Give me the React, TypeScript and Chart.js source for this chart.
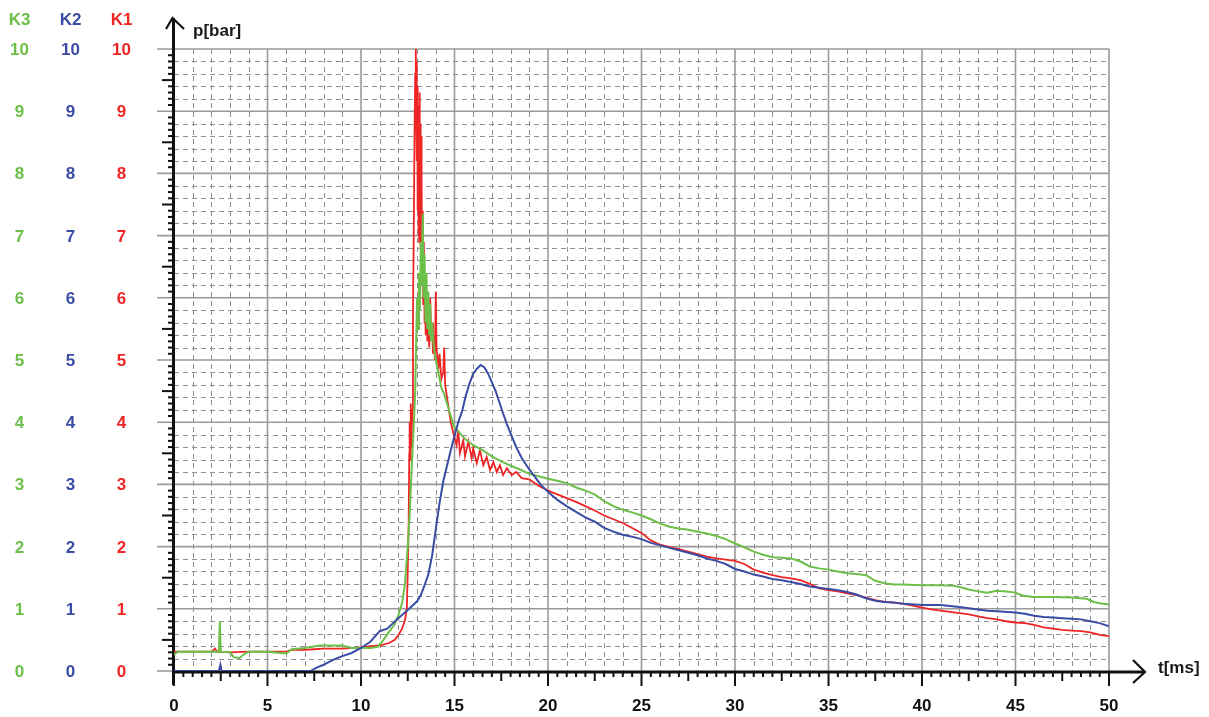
import React, { useEffect, useRef } from "react";
import { Chart, registerables } from "chart.js";

Chart.register(...registerables);

// ---------- data (time in ms, pressure in bar) ----------
const K1_T = [
  0, 1, 2, 2.2, 2.3, 3, 4, 5, 6, 6.3, 7, 7.5, 8, 9, 10, 10.5, 11, 11.5, 11.8, 12, 12.2, 12.35, 12.45,
  12.5, 12.55, 12.58, 12.6, 12.63, 12.66, 12.7, 12.74, 12.78, 12.82, 12.86, 12.9, 12.93, 12.95, 12.97,
  12.99, 13.01, 13.03, 13.05, 13.07, 13.09, 13.11, 13.13, 13.15, 13.17, 13.19, 13.21, 13.23, 13.25,
  13.27, 13.3, 13.33, 13.36, 13.4, 13.42, 13.46, 13.5,
  13.55, 13.6, 13.65, 13.7, 13.75, 13.8, 13.85, 13.9, 13.95, 14, 14.04, 14.1, 14.15, 14.2, 14.3, 14.4,
  14.45, 14.5, 14.6, 14.7, 14.8, 14.94, 15.11, 15.2, 15.29, 15.47, 15.56, 15.74, 15.92, 16, 16.19,
  16.36, 16.54, 16.72, 16.9, 17.08, 17.26, 17.43, 17.6, 17.8, 18.06, 18.3, 18.59, 19, 19.5, 20, 20.5,
  21, 21.5, 22, 22.5, 23, 23.5, 24, 24.5, 25, 25.5, 26, 26.5, 27, 27.5, 28, 28.5, 29, 29.5, 30, 30.5,
  31, 31.5, 32, 32.5, 33, 33.5, 34, 34.5, 35, 35.5, 36, 36.5, 37, 37.5, 38, 38.5, 39, 39.5, 40, 40.5,
  41, 41.5, 42, 42.5, 43, 43.5, 44, 44.5, 45, 45.5, 46, 46.5, 47, 47.5, 48, 48.5, 49, 49.5, 50,
];
const K1_P = [
  0.31, 0.31, 0.31, 0.36, 0.31, 0.3, 0.31, 0.31, 0.31, 0.34, 0.34, 0.35, 0.36, 0.36, 0.38, 0.4, 0.41,
  0.45, 0.5, 0.58, 0.68, 0.82, 1.0,
  1.6, 2.4, 3.5, 4.0, 3.4, 4.3, 3.6, 4.2, 5.8, 7.0, 8.6, 9.6, 10.0, 9.0, 9.8,
  8.2, 9.4, 7.4, 9.1, 7.0, 8.9, 6.9, 9.3, 7.2, 8.8, 6.8, 8.6, 6.9, 7.9,
  6.4, 7.4, 5.9, 6.9, 5.6, 6.1, 5.4, 5.8,
  5.3, 5.5, 5.2, 6.0, 5.4, 5.6, 5.1, 5.4, 5.0, 6.1, 5.2, 5.0, 4.9, 5.1, 4.7, 4.8,
  5.2, 4.6, 4.4, 4.2, 4.0, 3.82, 3.63, 3.87, 3.5, 3.71, 3.45, 3.69, 3.42, 3.58, 3.34,
  3.55, 3.31, 3.44, 3.23, 3.36, 3.2, 3.31, 3.15, 3.26, 3.15, 3.2, 3.1, 3.08, 2.98, 2.9, 2.84,
  2.78, 2.72, 2.65, 2.58, 2.5, 2.44, 2.38, 2.3, 2.22, 2.1, 2.03, 1.99, 1.96, 1.92, 1.88, 1.84, 1.81, 1.79, 1.77, 1.72,
  1.63, 1.58, 1.54, 1.51, 1.49, 1.46, 1.4, 1.33, 1.3, 1.28, 1.25, 1.22, 1.18, 1.14, 1.11, 1.1, 1.08, 1.05, 1.02, 0.99,
  0.97, 0.95, 0.93, 0.91, 0.88, 0.85, 0.83, 0.8, 0.78, 0.77, 0.74, 0.7, 0.68, 0.66, 0.65, 0.64, 0.62, 0.58, 0.56,
];

const K2_T = [
  0, 2.4, 2.48, 2.55, 7.3, 7.6, 8, 8.5, 9, 9.5, 10, 10.5, 11, 11.4, 12, 12.5, 13, 13.2, 13.4, 13.6, 13.8,
  14, 14.2, 14.4, 14.6, 14.8, 15, 15.2, 15.4, 15.6, 15.8, 16, 16.2, 16.4, 16.6, 16.8, 17, 17.2, 17.4,
  17.6, 17.8, 18, 18.3, 18.6, 19, 19.3, 19.6, 20, 20.5, 21, 21.5, 22, 22.5, 23, 23.5, 24, 24.5, 25, 25.5,
  26, 26.5, 27, 27.5, 28, 28.5, 29, 29.5, 30, 30.5, 31, 31.5, 32, 32.5, 33, 33.5, 34, 34.5, 35, 35.5, 36,
  36.5, 37, 37.5, 38, 38.5, 39, 40, 41, 42, 42.5, 43, 43.5, 44, 45, 45.5, 46, 46.5, 47, 47.5, 48, 48.5,
  49, 49.5, 50,
];
const K2_P = [
  0, 0, 0.1, 0, 0, 0.05, 0.1, 0.18, 0.24, 0.29, 0.37, 0.47, 0.64, 0.68, 0.85, 0.98, 1.12, 1.22, 1.38, 1.55, 1.85,
  2.28, 2.7, 3.05, 3.3, 3.55, 3.78, 4.0, 4.17, 4.42, 4.62, 4.78, 4.86, 4.92, 4.88, 4.78, 4.64, 4.5, 4.32,
  4.14, 3.97, 3.82, 3.6, 3.42, 3.24, 3.12, 3.0, 2.88, 2.75, 2.65, 2.56, 2.47, 2.4, 2.3, 2.24, 2.19, 2.16, 2.12, 2.06,
  2.02, 1.98, 1.94, 1.9, 1.86, 1.81, 1.77, 1.72, 1.64, 1.6, 1.55, 1.52, 1.48, 1.46, 1.43, 1.4, 1.36, 1.34, 1.32, 1.3, 1.27,
  1.23, 1.17, 1.13, 1.11, 1.1, 1.08, 1.06, 1.06, 1.03, 1.01, 0.99, 0.97, 0.96, 0.94, 0.92, 0.89, 0.87, 0.86, 0.85, 0.84, 0.83,
  0.8, 0.77, 0.72,
];

const K3_T = [
  0, 0.2, 1, 2, 2.4, 2.45, 2.5, 3, 3.2, 3.5, 3.8, 4, 5, 6, 6.3, 7, 7.8, 9, 9.5, 10.5, 10.9, 11.2, 11.5,
  11.8, 12, 12.2, 12.35, 12.5, 12.6, 12.7, 12.8, 12.9, 12.95, 13, 13.05, 13.1, 13.15, 13.2, 13.25, 13.3,
  13.35, 13.4, 13.45, 13.5, 13.55, 13.6, 13.65, 13.7, 13.75, 13.8, 13.9, 14, 14.1, 14.2, 14.3, 14.45,
  14.6, 14.75, 14.9, 15, 15.3, 15.6, 16, 16.5, 17, 17.5, 18, 18.5, 19, 19.5, 20, 20.5, 21, 21.5, 22,
  22.5, 23, 23.5, 24, 24.5, 25, 25.5, 26, 26.5, 27, 27.5, 28, 28.5, 29, 29.5, 30, 30.5, 31, 31.5, 32,
  32.5, 33, 33.5, 34, 34.5, 35, 35.5, 36, 36.5, 37, 37.5, 38, 38.5, 39, 40, 41, 41.7, 42, 42.5, 43, 43.5,
  44, 44.5, 45, 45.4, 46, 47, 48, 48.8, 49.2, 49.5, 50,
];
const K3_P = [
  0.26, 0.31, 0.31, 0.31, 0.31, 0.8, 0.31, 0.3, 0.22, 0.21, 0.28, 0.31, 0.31, 0.28, 0.35, 0.37, 0.41, 0.41, 0.37, 0.37, 0.39, 0.5, 0.63,
  0.75, 0.9, 1.1, 1.4, 2.0, 2.5, 3.2, 3.8, 4.5, 5.3, 6.0, 5.5, 6.4, 5.8, 6.9, 6.2, 7.35,
  6.0, 6.7, 5.6, 6.4, 5.5, 6.1, 5.4, 5.9, 5.3, 5.6, 5.2, 5.0, 4.85, 4.7, 4.55, 4.45,
  4.3, 4.15, 4.0, 3.92, 3.82, 3.72, 3.63, 3.55, 3.45, 3.37, 3.3, 3.24, 3.17, 3.13, 3.09, 3.06, 3.02, 2.95, 2.9,
  2.84, 2.73, 2.65, 2.59, 2.55, 2.5, 2.44, 2.37, 2.32, 2.29, 2.27, 2.24, 2.21, 2.17, 2.12, 2.05, 1.99, 1.92, 1.87, 1.83,
  1.82, 1.81, 1.76, 1.68, 1.65, 1.63, 1.6, 1.57, 1.56, 1.54, 1.45, 1.41, 1.39, 1.39, 1.38, 1.38, 1.37, 1.35, 1.31, 1.28, 1.26,
  1.29, 1.28, 1.26, 1.21, 1.19, 1.19, 1.18, 1.16, 1.11, 1.09, 1.07,
];

const X_TICKS = [0, 5, 10, 15, 20, 25, 30, 35, 40, 45, 50];
const Y_TICKS = [0, 1, 2, 3, 4, 5, 6, 7, 8, 9, 10];
const CHANNELS = ["K3", "K2", "K1"];
const X_TITLE = "t[ms]";
const Y_TITLE = "p[bar]";

const RED = "#ee2525";
const BLUE = "#3a4ca3";
const GREEN = "#6cbf48";
const CHANNEL_COLORS = [GREEN, BLUE, RED];
const COLUMN_X = [19.5, 70.5, 121.5];
const FONT = "bold 17px 'Liberation Sans', Arial, sans-serif";

function toPoints(t: number[], p: number[]) {
  return t.map((v, i) => ({ x: v, y: p[i] }));
}

const framePlugin = {
  id: "frame",
  beforeDatasetsDraw(chart: any) {
    const ctx: CanvasRenderingContext2D = chart.ctx;
    const xs = chart.scales.x;
    const ys = chart.scales.y;
    const L = xs.getPixelForValue(0);
    const R = xs.getPixelForValue(50);
    const T = ys.getPixelForValue(10);
    const B = ys.getPixelForValue(0);
    const line = (x1: number, y1: number, x2: number, y2: number) => {
      ctx.beginPath();
      ctx.moveTo(x1, y1);
      ctx.lineTo(x2, y2);
      ctx.stroke();
    };
    ctx.save();
    // minor dashed grid
    ctx.setLineDash([5, 4]);
    ctx.strokeStyle = "#8f8f8f";
    ctx.lineWidth = 1;
    for (let k = 1; k < 50; k++) {
      if (k % 5 === 0) continue;
      const px = Math.round(xs.getPixelForValue(k)) + 0.5;
      line(px, T, px, B);
    }
    for (let k = 1; k < 50; k++) {
      if (k % 5 === 0) continue;
      const py = Math.round(ys.getPixelForValue(k / 5)) + 0.5;
      line(L, py, R, py);
    }
    // major solid grid
    ctx.setLineDash([]);
    ctx.strokeStyle = "#9a9a9a";
    ctx.lineWidth = 1.6;
    for (const t of X_TICKS) {
      if (t === 0) continue;
      const px = xs.getPixelForValue(t);
      line(px, T, px, B);
    }
    for (const v of Y_TICKS) {
      const py = ys.getPixelForValue(v);
      line(L - 17, py, v === 0 ? L : R, py);
    }
    // axes
    ctx.strokeStyle = "#111";
    ctx.fillStyle = "#111";
    ctx.lineWidth = 3;
    line(L - 0.5, B + 14, L - 0.5, T - 31);
    line(L, B + 1, R + 36, B + 1);
    ctx.lineWidth = 2.2;
    ctx.beginPath();
    ctx.moveTo(L - 8, T - 20);
    ctx.lineTo(L - 1.5, T - 31);
    ctx.lineTo(L + 10, T - 20);
    ctx.stroke();
    ctx.beginPath();
    ctx.moveTo(R + 24, B - 11);
    ctx.lineTo(R + 36, B + 1);
    ctx.lineTo(R + 24, B + 12);
    ctx.stroke();
    // y ticks (every 0.1)
    ctx.lineWidth = 2;
    for (let k = 1; k < 100; k++) {
      if (k % 10 === 0) continue;
      const len = k % 5 === 0 ? 11 : 5;
      const py = ys.getPixelForValue(k / 10);
      line(L - 1 - len, py, L, py);
    }
    // x ticks (every 0.5)
    for (let k = 0; k <= 100; k++) {
      const len = k % 10 === 0 ? 14 : k % 5 === 0 ? 9 : 5;
      const px = xs.getPixelForValue(k / 2);
      line(px, B + 1, px, B + 1 + len);
    }
    // text
    ctx.font = FONT;
    ctx.textAlign = "center";
    ctx.textBaseline = "alphabetic";
    for (const t of X_TICKS) {
      ctx.fillText(String(t), xs.getPixelForValue(t), B + 40);
    }
    CHANNELS.forEach((name, i) => {
      ctx.fillStyle = CHANNEL_COLORS[i];
      ctx.fillText(name, COLUMN_X[i], 25);
      for (const v of Y_TICKS) {
        ctx.fillText(String(v), COLUMN_X[i], ys.getPixelForValue(v) + 6);
      }
    });
    ctx.fillStyle = "#1a1a1a";
    ctx.textAlign = "left";
    ctx.fillText(Y_TITLE, L + 19, T - 13);
    ctx.fillText(X_TITLE, R + 49, B + 2);
    ctx.restore();
  },
};

export default function App() {
  const ref = useRef<HTMLCanvasElement>(null);
  useEffect(() => {
    const chart = new Chart(ref.current as HTMLCanvasElement, {
      type: "line",
      data: {
        datasets: [
          { label: "K2", data: toPoints(K2_T, K2_P), borderColor: BLUE, borderWidth: 2 },
          { label: "K3", data: toPoints(K3_T, K3_P), borderColor: GREEN, borderWidth: 2 },
          { label: "K1", data: toPoints(K1_T, K1_P), borderColor: RED, borderWidth: 1.8 },
        ],
      },
      options: {
        responsive: false,
        animation: false,
        layout: { padding: { left: 174, right: 100, top: 49, bottom: 46 } },
        elements: { point: { radius: 0 }, line: { tension: 0 } },
        scales: {
          x: { type: "linear", min: 0, max: 50, display: false },
          y: { type: "linear", min: 0, max: 10, display: false },
        },
        plugins: { legend: { display: false }, tooltip: { enabled: false } },
      },
      plugins: [framePlugin],
    });
    return () => chart.destroy();
  }, []);
  return (
    <canvas
      ref={ref}
      width={1209}
      height={717}
      style={{ position: "absolute", left: 0, top: 0, width: 1209, height: 717, background: "#fff" }}
    />
  );
}
